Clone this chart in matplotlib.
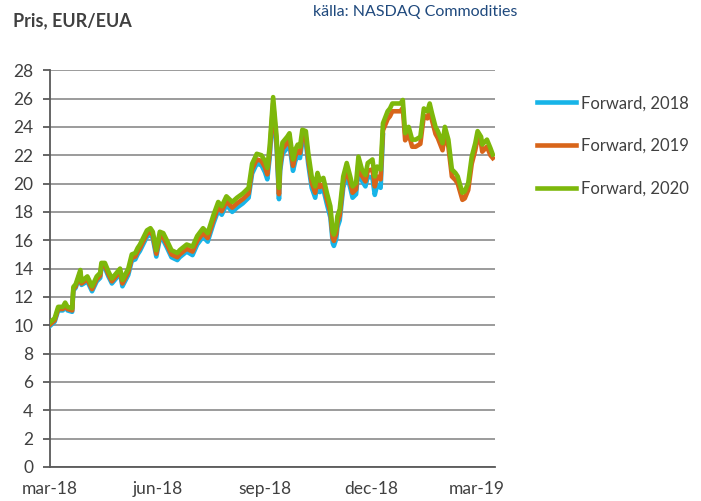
import matplotlib
matplotlib.use("Agg")
import matplotlib.pyplot as plt
import numpy as np
import pandas as pd

plt.rcParams['font.family'] = ['Lato', 'DejaVu Sans']

# EUA forward prices, EUR per allowance
dates = pd.to_datetime([
    "2018-03-01", "2018-03-05", "2018-03-08", "2018-03-12", "2018-03-14", "2018-03-16",
    "2018-03-20", "2018-03-21", "2018-03-23", "2018-03-27", "2018-03-28",
    "2018-04-02", "2018-04-06", "2018-04-10", "2018-04-13", "2018-04-14", "2018-04-17",
    "2018-04-20", "2018-04-23", "2018-04-30",
    "2018-05-02", "2018-05-07", "2018-05-10", "2018-05-13", "2018-05-15", "2018-05-17",
    "2018-05-23", "2018-05-26", "2018-05-28", "2018-05-31",
    "2018-06-03", "2018-06-06", "2018-06-09", "2018-06-13", "2018-06-18", "2018-06-20",
    "2018-06-26",
    "2018-07-01", "2018-07-05", "2018-07-10", "2018-07-14", "2018-07-19", "2018-07-23",
    "2018-07-26", "2018-07-30",
    "2018-08-04", "2018-08-08", "2018-08-13", "2018-08-18", "2018-08-21", "2018-08-25",
    "2018-08-29",
    "2018-09-01", "2018-09-03", "2018-09-05", "2018-09-08", "2018-09-11", "2018-09-13",
    "2018-09-14", "2018-09-16", "2018-09-20", "2018-09-22", "2018-09-25", "2018-09-27",
    "2018-09-29",
    "2018-10-01", "2018-10-03", "2018-10-06", "2018-10-08", "2018-10-11", "2018-10-14",
    "2018-10-16", "2018-10-18", "2018-10-21", "2018-10-24", "2018-10-27", "2018-10-29",
    "2018-10-30",
    "2018-11-01", "2018-11-02", "2018-11-04", "2018-11-07", "2018-11-10", "2018-11-13",
    "2018-11-15", "2018-11-18", "2018-11-20", "2018-11-23", "2018-11-26", "2018-11-28",
    "2018-12-02", "2018-12-04", "2018-12-06", "2018-12-09", "2018-12-11",
    "2018-12-15", "2018-12-17", "2018-12-19", "2018-12-23", "2018-12-26", "2018-12-28",
    "2018-12-30",
    "2019-01-02", "2019-01-05", "2019-01-08", "2019-01-12", "2019-01-15", "2019-01-18",
    "2019-01-20", "2019-01-22", "2019-01-25", "2019-01-27", "2019-01-31",
    "2019-02-02", "2019-02-05", "2019-02-08", "2019-02-11", "2019-02-13", "2019-02-17",
    "2019-02-19", "2019-02-22", "2019-02-25", "2019-02-28",
    "2019-03-02", "2019-03-05", "2019-03-06", "2019-03-10", "2019-03-13", "2019-03-15",
])

fwd_2020 = [
    10.2, 10.5, 11.3, 11.3, 11.6, 11.3, 11.2, 12.7, 12.9, 13.9, 13.1,
    13.45, 12.75, 13.45, 13.7, 14.4, 14.4, 13.8, 13.3, 14.0,
    13.2, 14.0, 15.0, 15.1, 15.45, 15.7, 16.7, 16.85, 16.6, 15.3,
    16.6, 16.5, 16.0, 15.3, 15.1, 15.3, 15.7,
    15.55, 16.3, 16.85, 16.5, 17.8, 18.7, 18.4, 19.1,
    18.7, 19.0, 19.3, 19.7, 21.4, 22.1, 22.0,
    21.6, 21.1, 22.6, 26.1, 23.3, 19.7, 21.7, 22.9, 23.3, 23.55, 21.7, 22.4, 22.75,
    22.6, 23.8, 23.7, 22.2, 20.5, 19.8, 20.75, 20.2, 20.4, 19.35, 18.4, 16.6, 16.4,
    16.9, 17.7, 18.2, 20.5, 21.45, 20.5, 19.8, 20.05, 21.9, 21.0, 20.6, 21.45,
    21.7, 20.5, 21.2, 21.0, 24.25,
    25.1, 25.3, 25.65, 25.65, 25.65, 25.9, 23.55,
    24.0, 23.1, 23.1, 23.3, 25.3, 25.1, 25.65, 24.95, 24.0, 23.7, 22.85,
    24.0, 23.1, 21.0, 20.75, 20.5, 19.35, 19.45, 20.05, 21.9, 22.85,
    23.7, 23.3, 22.75, 23.1, 22.5, 22.05,
]

fwd_2019 = [
    10.05, 10.35, 11.15, 11.15, 11.45, 11.15, 11.05, 12.55, 12.75, 13.75, 12.95,
    13.25, 12.55, 13.25, 13.5, 14.2, 14.2, 13.6, 13.1, 13.8,
    12.95, 13.75, 14.75, 14.85, 15.2, 15.45, 16.45, 16.6, 16.35, 15.05,
    16.3, 16.2, 15.7, 15.0, 14.8, 15.0, 15.4,
    15.2, 15.95, 16.5, 16.15, 17.45, 18.35, 18.05, 18.75,
    18.3, 18.6, 18.9, 19.3, 21.0, 21.7, 21.6,
    21.15, 20.65, 22.15, 25.65, 22.85, 19.25, 21.25, 22.45, 22.85, 23.1, 21.25, 21.95, 22.3,
    22.15, 23.35, 23.25, 21.75, 20.05, 19.35, 20.3, 19.75, 19.95, 18.9, 17.95, 16.15, 15.95,
    16.45, 17.25, 17.75, 20.05, 21.0, 20.05, 19.35, 19.6, 21.45, 20.55, 20.15, 20.9,
    21.0, 19.8, 20.5, 20.3, 23.75,
    24.55, 24.75, 25.1, 25.1, 25.1, 25.35, 23.05,
    23.5, 22.6, 22.6, 22.8, 24.8, 24.6, 25.15, 24.45, 23.5, 23.2, 22.35,
    23.5, 22.6, 20.5, 20.25, 20.0, 18.85, 18.95, 19.55, 21.4, 22.35,
    23.2, 22.8, 22.25, 22.6, 22.0, 21.8,
]

# the Dec-18 contract expires mid December
fwd_2018 = [
    9.95, 10.25, 11.05, 11.05, 11.35, 11.05, 10.95, 12.45, 12.65, 13.65, 12.85,
    13.1, 12.4, 13.1, 13.35, 14.05, 14.05, 13.45, 12.95, 13.65,
    12.75, 13.55, 14.55, 14.65, 15.0, 15.25, 16.25, 16.4, 16.15, 14.85,
    16.1, 16.0, 15.5, 14.8, 14.6, 14.8, 15.2,
    14.95, 15.7, 16.25, 15.9, 17.2, 18.1, 17.8, 18.5,
    18.0, 18.3, 18.6, 19.0, 20.7, 21.4, 21.3,
    20.8, 20.3, 21.8, 25.3, 22.5, 18.9, 20.9, 22.1, 22.5, 22.75, 20.9, 21.6, 21.95,
    21.8, 23.0, 22.9, 21.4, 19.7, 19.0, 19.95, 19.4, 19.6, 18.55, 17.6, 15.8, 15.6,
    16.1, 16.9, 17.4, 19.7, 20.65, 19.7, 19.0, 19.25, 21.1, 20.2, 19.8, 20.5,
    20.4, 19.2, 19.9, 19.7, 23.4,
]

series_labels = ["Forward, 2018", "Forward, 2019", "Forward, 2020"]
series_colors = ["#17B4E8", "#D8651A", "#7DB80B"]
y_ticks = np.arange(0, 29, 2)
x_tick_dates = pd.to_datetime(["2018-03-01", "2018-06-01", "2018-09-01",
                               "2018-12-01", "2019-03-01"])
x_tick_labels = ["mar-18", "jun-18", "sep-18", "dec-18", "mar-19"]

text_col = "#404040"

fig = plt.figure(figsize=(7.01, 5.01), dpi=100)
ax = fig.add_axes([0.0713, 0.0679, 0.635, 0.792])

ax.plot(dates[:len(fwd_2018)], fwd_2018, color=series_colors[0], lw=3.3,
        label=series_labels[0], zorder=3)
ax.plot(dates, fwd_2019, color=series_colors[1], lw=3.3,
        label=series_labels[1], zorder=4)
ax.plot(dates, fwd_2020, color=series_colors[2], lw=3.3,
        label=series_labels[2], zorder=5)

ax.set_ylim(0, 28)
ax.set_yticks(y_ticks)
ax.set_xlim(pd.Timestamp("2018-03-01"), pd.Timestamp("2019-03-17"))
ax.set_xticks(x_tick_dates)
ax.set_xticklabels(x_tick_labels)

ax.grid(axis='y', color='#808080', lw=1.1, zorder=1)
ax.set_axisbelow(True)
for side in ['top', 'right']:
    ax.spines[side].set_visible(False)
for side in ['left', 'bottom']:
    ax.spines[side].set_color('#595959')
    ax.spines[side].set_linewidth(1.3)
ax.tick_params(axis='y', length=5, width=1.3, color='#595959', pad=7,
               labelsize=12.5, labelcolor=text_col)
ax.tick_params(axis='x', length=0, pad=10, labelsize=12.5, labelcolor=text_col)

fig.text(0.018, 0.958, "Pris, EUR/EUA", fontsize=13, fontweight='bold',
         color=text_col, va='center', ha='left')
fig.text(0.447, 0.977, "källa: NASDAQ Commodities", fontsize=11.5,
         color='#1F497D', va='center', ha='left')

ax.legend(loc='upper left', bbox_to_anchor=(0.745, 0.84),
          bbox_transform=fig.transFigure, frameon=False, fontsize=12,
          handlelength=2.3, handletextpad=0.3, labelspacing=1.6,
          labelcolor=text_col)

fig.savefig("out.png", dpi=100)
